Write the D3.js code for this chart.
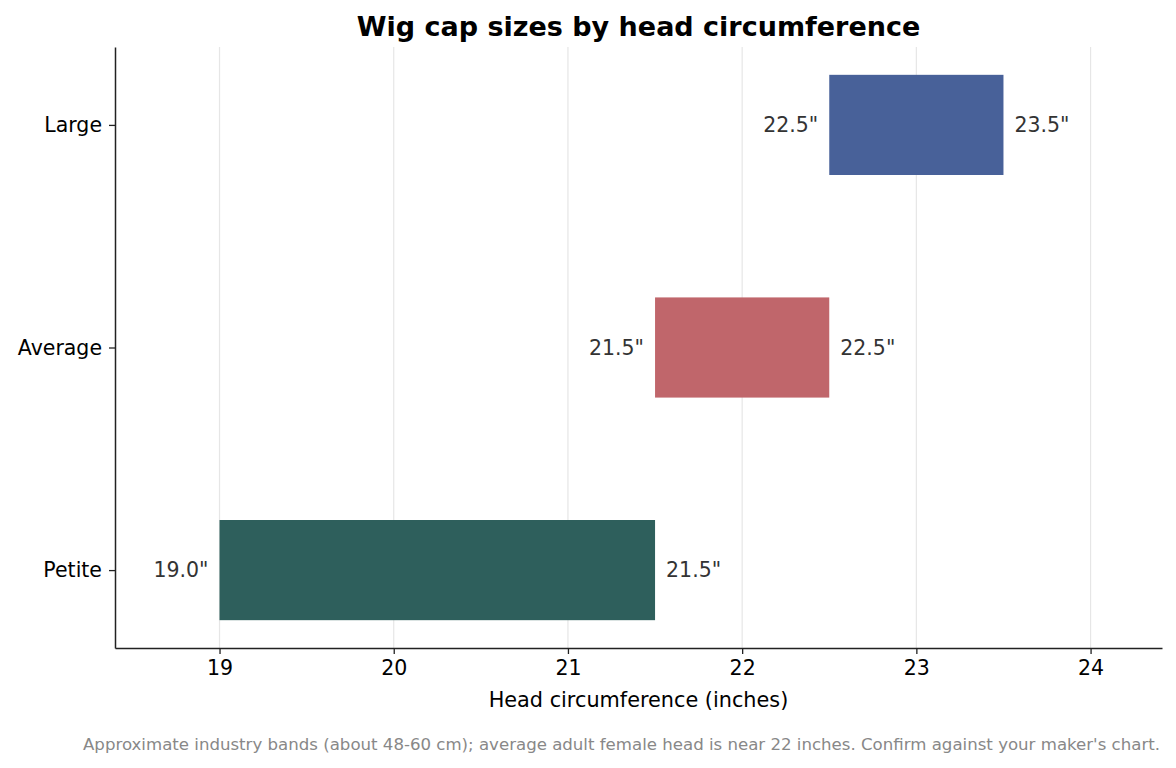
<!DOCTYPE html>
<html>
<head>
<meta charset="utf-8">
<script src="https://cdn.jsdelivr.net/npm/d3@7"></script>
<style>
  body { margin: 0; background: #fff; }
  svg { font-family: "DejaVu Sans", sans-serif; }
</style>
</head>
<body>
<script>
// data
const sizes = ["Petite", "Average", "Large"];
const lowEnd = [19.0, 21.5, 22.5];
const highEnd = [21.5, 22.5, 23.5];
const barColors = ["#2e5f5c", "#c0666b", "#486199"];
const xTicks = [19, 20, 21, 22, 23, 24];

const W = 1176, H = 768;
const margin = { top: 47, right: 14, bottom: 120, left: 115 };
const width = W - margin.left - margin.right,
  height = H - margin.top - margin.bottom;

const svg = d3.select("body").append("svg")
  .attr("width", W)
  .attr("height", H);

const g = svg.append("g")
  .attr("transform", "translate(" + margin.left + "," + margin.top + ")");

const x = d3.scaleLinear().domain([18.4, 24.41]).range([0, width]);
// category index -> position, bar height 0.45 in data units
const y = d3.scaleLinear().domain([-0.35, 2.35]).range([height, 0]);
const barH = 0.45;

// grid
g.selectAll(".grid")
  .data(xTicks)
  .enter()
  .append("line")
  .attr("x1", d => x(d))
  .attr("x2", d => x(d))
  .attr("y1", 0)
  .attr("y2", height)
  .attr("stroke", "#e6e6e6")
  .attr("stroke-width", 1.2);

const rows = sizes.map((s, i) => ({ name: s, i: i, lo: lowEnd[i], hi: highEnd[i], color: barColors[i] }));

g.selectAll(".bar")
  .data(rows)
  .enter()
  .append("rect")
  .attr("x", d => x(d.lo))
  .attr("width", d => x(d.hi) - x(d.lo))
  .attr("y", d => y(d.i + barH / 2))
  .attr("height", d => y(d.i - barH / 2) - y(d.i + barH / 2))
  .attr("fill", d => d.color);

g.selectAll(".lolab")
  .data(rows)
  .enter()
  .append("text")
  .attr("x", d => x(d.lo) - 11)
  .attr("y", d => y(d.i))
  .attr("dy", "0.35em")
  .attr("text-anchor", "end")
  .attr("font-size", "20.5px")
  .attr("fill", "#333")
  .text(d => d.lo.toFixed(1) + '"');

g.selectAll(".hilab")
  .data(rows)
  .enter()
  .append("text")
  .attr("x", d => x(d.hi) + 11)
  .attr("y", d => y(d.i))
  .attr("dy", "0.35em")
  .attr("font-size", "20.5px")
  .attr("fill", "#333")
  .text(d => d.hi.toFixed(1) + '"');

// axes
const xAxis = g.append("g")
  .attr("transform", "translate(0," + height + ")")
  .call(d3.axisBottom(x).tickValues(xTicks).tickFormat(d3.format("d")).tickSize(6).tickPadding(6).tickSizeOuter(0));

const yAxis = g.append("g")
  .call(d3.axisLeft(y).tickValues([0, 1, 2]).tickFormat(d => sizes[d]).tickSize(6).tickPadding(7).tickSizeOuter(0));

[xAxis, yAxis].forEach(a => {
  a.attr("font-size", "20.5px").attr("font-family", "DejaVu Sans");
  a.selectAll("text").attr("fill", "#000");
  a.select(".domain").attr("stroke", "#222").attr("stroke-width", 1.5);
  a.selectAll(".tick line").attr("stroke", "#222").attr("stroke-width", 1.3);
});

// titles
svg.append("text")
  .attr("x", margin.left + width / 2)
  .attr("y", 36)
  .attr("text-anchor", "middle")
  .attr("font-size", "27px")
  .attr("font-weight", "bold")
  .text("Wig cap sizes by head circumference");

svg.append("text")
  .attr("x", margin.left + width / 2)
  .attr("y", 707)
  .attr("text-anchor", "middle")
  .attr("font-size", "20.8px")
  .text("Head circumference (inches)");

svg.append("text")
  .attr("x", 1160)
  .attr("y", 750)
  .attr("text-anchor", "end")
  .attr("font-size", "16.6px")
  .attr("fill", "#888")
  .text("Approximate industry bands (about 48-60 cm); average adult female head is near 22 inches. Confirm against your maker's chart.");
</script>
</body>
</html>
